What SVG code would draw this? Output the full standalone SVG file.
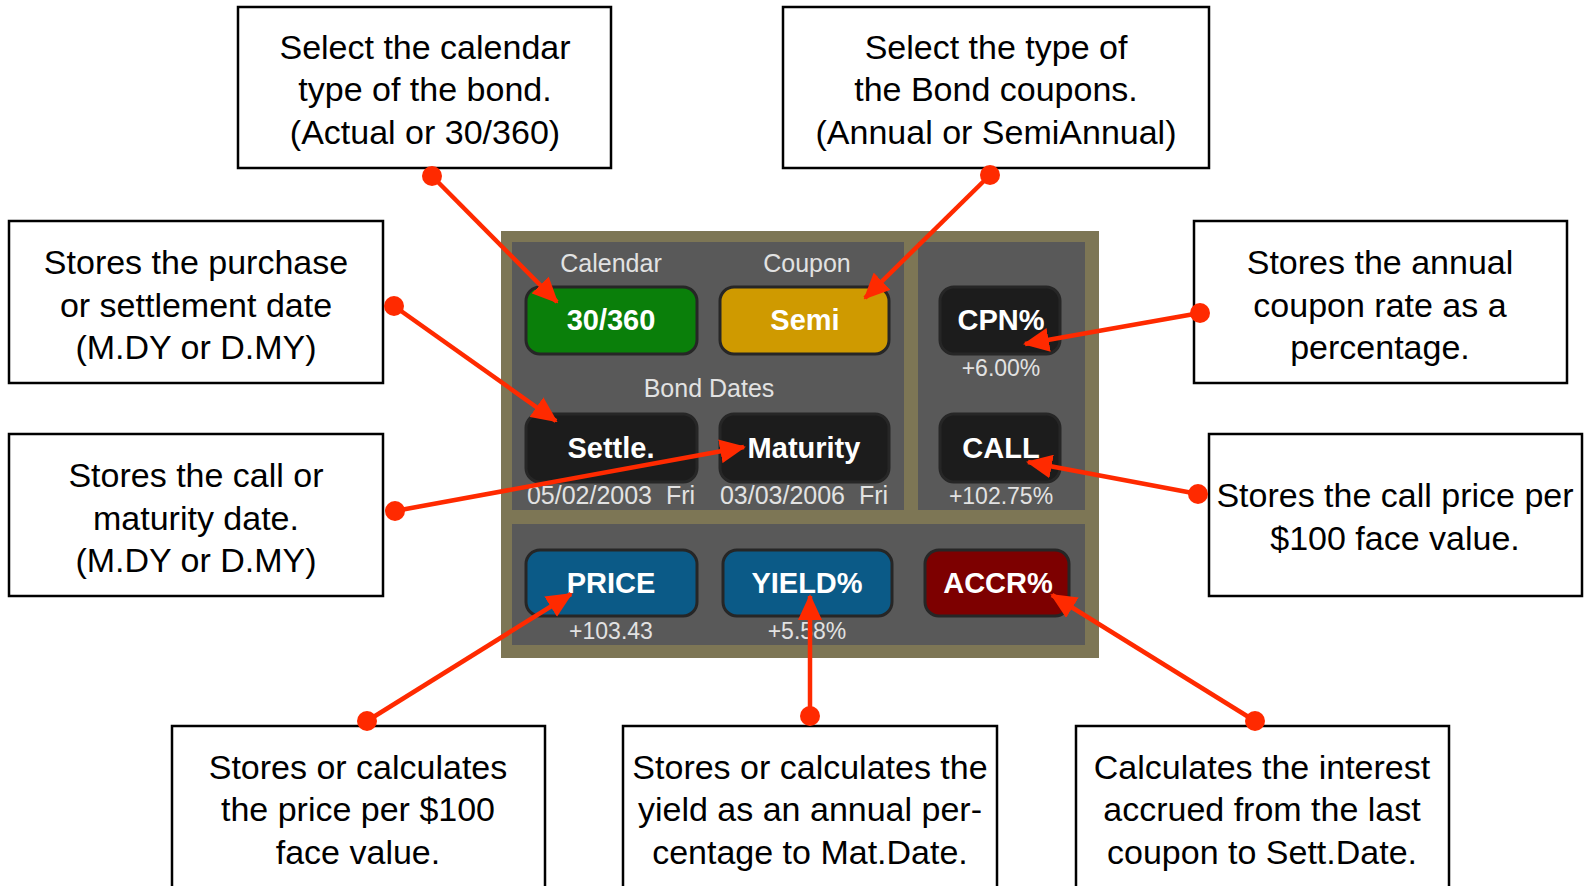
<svg xmlns="http://www.w3.org/2000/svg" width="1588" height="886" viewBox="0 0 1588 886">
<style>
.box{fill:#fff;stroke:#000;stroke-width:2.5}
.bt{font-family:"Liberation Sans",Arial,sans-serif;font-size:34px;fill:#000;text-anchor:middle}
.lbl{font-family:"Liberation Sans",Arial,sans-serif;font-size:25px;fill:#e2e2e2;text-anchor:middle;white-space:pre}
.btn{stroke:#262626;stroke-width:3}
.bl{font-family:"Liberation Sans",Arial,sans-serif;font-size:29px;font-weight:bold;fill:#fff;text-anchor:middle}
.con{stroke:#ff2a00;stroke-width:4.5;fill:none;marker-end:url(#ah)}
.dot{fill:#ff2a00}
</style>
<defs>
<marker id="ah" markerUnits="userSpaceOnUse" markerWidth="26" markerHeight="24" refX="24" refY="12" orient="auto">
<path d="M0,0 L26,12 L0,24 z" fill="#ff2a00"/>
</marker>
</defs>
<rect width="1588" height="886" fill="#fff"/>

<g id="calc">
<rect x="501" y="231" width="598" height="427" fill="#7d7655"/>
<rect x="512" y="242" width="392" height="268" fill="#595959"/>
<rect x="918" y="242" width="167" height="268" fill="#595959"/>
<rect x="512" y="524" width="573" height="121" fill="#595959"/>
<text class="lbl" x="611" y="272">Calendar</text>
<text class="lbl" x="807" y="272">Coupon</text>
<text class="lbl" x="709" y="397">Bond Dates</text>
<text class="lbl" x="611" y="504" xml:space="preserve">05/02/2003  Fri</text>
<text class="lbl" x="804" y="504" xml:space="preserve">03/03/2006  Fri</text>
<text class="lbl" x="1001" y="376" style="font-size:23px">+6.00%</text>
<text class="lbl" x="1001" y="504" style="font-size:23px">+102.75%</text>
<text class="lbl" x="611" y="639" style="font-size:23px">+103.43</text>
<text class="lbl" x="807" y="639" style="font-size:23px">+5.58%</text>
</g>

<g id="btn-calendar"><rect class="btn" x="526" y="287" width="171" height="67" rx="14" fill="#0a7f0a"/><text class="bl" x="611" y="330">30/360</text></g>
<g id="btn-coupon"><rect class="btn" x="720" y="287" width="169" height="67" rx="14" fill="#cf9a00"/><text class="bl" x="805" y="330">Semi</text></g>
<g id="btn-settle"><rect class="btn" x="526" y="414" width="171" height="68" rx="14" fill="#1c1c1c"/><text class="bl" x="611" y="458">Settle.</text></g>
<g id="btn-maturity"><rect class="btn" x="720" y="414" width="169" height="68" rx="14" fill="#1c1c1c"/><text class="bl" x="804" y="458">Maturity</text></g>
<g id="btn-cpn"><rect class="btn" x="940" y="287" width="120" height="67" rx="14" fill="#1c1c1c"/><text class="bl" x="1001" y="330">CPN%</text></g>
<g id="btn-call"><rect class="btn" x="940" y="414" width="120" height="68" rx="14" fill="#1c1c1c"/><text class="bl" x="1001" y="458">CALL</text></g>
<g id="btn-price"><rect class="btn" x="526" y="550" width="171" height="66" rx="14" fill="#0b5a87"/><text class="bl" x="611" y="593">PRICE</text></g>
<g id="btn-yield"><rect class="btn" x="723" y="550" width="169" height="66" rx="14" fill="#0b5a87"/><text class="bl" x="807" y="593">YIELD%</text></g>
<g id="btn-accr"><rect class="btn" x="925" y="550" width="144" height="66" rx="14" fill="#7d0000"/><text class="bl" x="998" y="593">ACCR%</text></g>

<g id="note-calendar"><rect class="box" x="238" y="7" width="373" height="161"/>
<text class="bt" x="425" y="59">Select the calendar</text><text class="bt" x="425" y="101">type of the bond.</text><text class="bt" x="425" y="144">(Actual or 30/360)</text></g>
<g id="note-coupon"><rect class="box" x="783" y="7" width="426" height="161"/>
<text class="bt" x="996" y="59">Select the type of</text><text class="bt" x="996" y="101">the Bond coupons.</text><text class="bt" x="996" y="144">(Annual or SemiAnnual)</text></g>
<g id="note-settle"><rect class="box" x="9" y="221" width="374" height="162"/>
<text class="bt" x="196" y="274">Stores the purchase</text><text class="bt" x="196" y="317">or settlement date</text><text class="bt" x="196" y="359">(M.DY or D.MY)</text></g>
<g id="note-maturity"><rect class="box" x="9" y="434" width="374" height="162"/>
<text class="bt" x="196" y="487">Stores the call or</text><text class="bt" x="196" y="530">maturity date.</text><text class="bt" x="196" y="572">(M.DY or D.MY)</text></g>
<g id="note-cpn"><rect class="box" x="1194" y="221" width="373" height="162"/>
<text class="bt" x="1380" y="274">Stores the annual</text><text class="bt" x="1380" y="317">coupon rate as a</text><text class="bt" x="1380" y="359">percentage.</text></g>
<g id="note-call"><rect class="box" x="1209" y="434" width="373" height="162"/>
<text class="bt" x="1395" y="507">Stores the call price per</text><text class="bt" x="1395" y="550">$100 face value.</text></g>
<g id="note-price"><rect class="box" x="172" y="726" width="373" height="170"/>
<text class="bt" x="358" y="779">Stores or calculates</text><text class="bt" x="358" y="821">the price per $100</text><text class="bt" x="358" y="864">face value.</text></g>
<g id="note-yield"><rect class="box" x="623" y="726" width="374" height="170"/>
<text class="bt" x="810" y="779">Stores or calculates the</text><text class="bt" x="810" y="821">yield as an annual per-</text><text class="bt" x="810" y="864">centage to Mat.Date.</text></g>
<g id="note-accr"><rect class="box" x="1076" y="726" width="373" height="170"/>
<text class="bt" x="1262" y="779">Calculates the interest</text><text class="bt" x="1262" y="821">accrued from the last</text><text class="bt" x="1262" y="864">coupon to Sett.Date.</text></g>

<g id="connectors">
<line class="con" x1="432" y1="176" x2="557" y2="302"/>
<line class="con" x1="990" y1="175" x2="865" y2="298"/>
<line class="con" x1="394" y1="306" x2="556" y2="421"/>
<line class="con" x1="395" y1="511" x2="744" y2="447"/>
<line class="con" x1="1200" y1="313" x2="1025" y2="344"/>
<line class="con" x1="1198" y1="494" x2="1028" y2="462"/>
<line class="con" x1="367" y1="721" x2="571" y2="594"/>
<line class="con" x1="810" y1="716" x2="810" y2="596"/>
<line class="con" x1="1255" y1="721" x2="1052" y2="595"/>
<circle class="dot" cx="432" cy="176" r="10"/>
<circle class="dot" cx="990" cy="175" r="10"/>
<circle class="dot" cx="394" cy="306" r="10"/>
<circle class="dot" cx="395" cy="511" r="10"/>
<circle class="dot" cx="1200" cy="313" r="10"/>
<circle class="dot" cx="1198" cy="494" r="10"/>
<circle class="dot" cx="367" cy="721" r="10"/>
<circle class="dot" cx="810" cy="716" r="10"/>
<circle class="dot" cx="1255" cy="721" r="10"/>
</g>
</svg>
